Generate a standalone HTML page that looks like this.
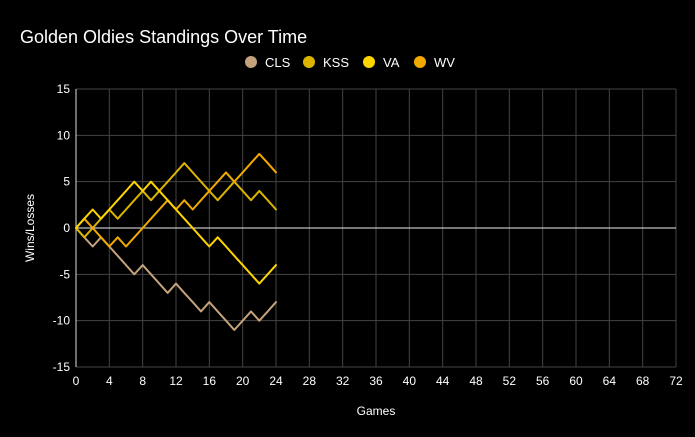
<!DOCTYPE html>
<html><head><meta charset="utf-8"><style>
html,body{margin:0;padding:0;background:#000;}
svg{display:block;font-family:"Liberation Sans",Roboto,sans-serif;}
</style></head><body>
<svg id="c" width="695" height="437" viewBox="0 0 695 437" xmlns="http://www.w3.org/2000/svg">
<rect width="695" height="437" fill="#000"/>
<text x="20" y="43" fill="#fff" font-size="18">Golden Oldies Standings Over Time</text>
<g font-size="13" fill="#fff">
<circle cx="251" cy="62" r="6" fill="#c4a27c"/><text x="265" y="67">CLS</text>
<circle cx="309" cy="62" r="6" fill="#dbb400"/><text x="323" y="67">KSS</text>
<circle cx="369" cy="62" r="6" fill="#ffd500"/><text x="383" y="67">VA</text>
<circle cx="420" cy="62" r="6" fill="#f2a900"/><text x="434" y="67">WV</text>
</g>
<g id="grid"></g>
<g id="lbl" font-size="12" fill="#fff"></g>
<text x="376" y="415" fill="#fff" font-size="12" text-anchor="middle">Games</text>
<text transform="translate(34,228) rotate(-90)" fill="#fff" font-size="12" text-anchor="middle">Wins/Losses</text>
<g id="series" fill="none" stroke-width="2" stroke-linejoin="round" stroke-linecap="round"></g>
</svg>
<script>
var ns="http://www.w3.org/2000/svg";
function X(g){return 76+g*600/72;}
function Y(v){return 228-v*278/30;}
function el(t,a,p,txt){var e=document.createElementNS(ns,t);for(var k in a)e.setAttribute(k,a[k]);if(txt!==undefined)e.textContent=txt;document.getElementById(p).appendChild(e);}
for(var g=4;g<=72;g+=4)el("line",{x1:X(g),x2:X(g),y1:Y(15),y2:Y(-15),stroke:"#444","stroke-width":1},"grid");
for(var v=-15;v<=15;v+=5)if(v!=0)el("line",{x1:X(0),x2:X(72),y1:Y(v),y2:Y(v),stroke:"#444","stroke-width":1},"grid");
el("line",{x1:X(0),x2:X(0),y1:Y(15),y2:Y(-15),stroke:"#ddd","stroke-width":1},"grid");
el("line",{x1:X(0),x2:X(72),y1:Y(0),y2:Y(0),stroke:"#eee","stroke-width":1},"grid");
for(var g=0;g<=72;g+=4)el("text",{x:X(g),y:385,"text-anchor":"middle"},"lbl",""+g);
for(var v=-15;v<=15;v+=5)el("text",{x:70,y:Y(v)+4,"text-anchor":"end"},"lbl",""+v);
var S=[
["#c4a27c",[0,-1,-2,-1,-2,-3,-4,-5,-4,-5,-6,-7,-6,-7,-8,-9,-8,-9,-10,-11,-10,-9,-10,-9,-8]],
["#dbb400",[0,-1,0,1,2,1,2,3,4,3,4,5,6,7,6,5,4,3,4,5,4,3,4,3,2]],
["#f2a900",[0,1,0,-1,-2,-1,-2,-1,0,1,2,3,2,3,2,3,4,5,6,5,6,7,8,7,6]],
["#ffd500",[0,1,2,1,2,3,4,5,4,5,4,3,2,1,0,-1,-2,-1,-2,-3,-4,-5,-6,-5,-4]]];
S.forEach(function(s){var p=s[1].map(function(v,i){return X(i).toFixed(1)+","+Y(v).toFixed(1);}).join(" ");el("polyline",{points:p,stroke:s[0]},"series");});
</script>
</body></html>
